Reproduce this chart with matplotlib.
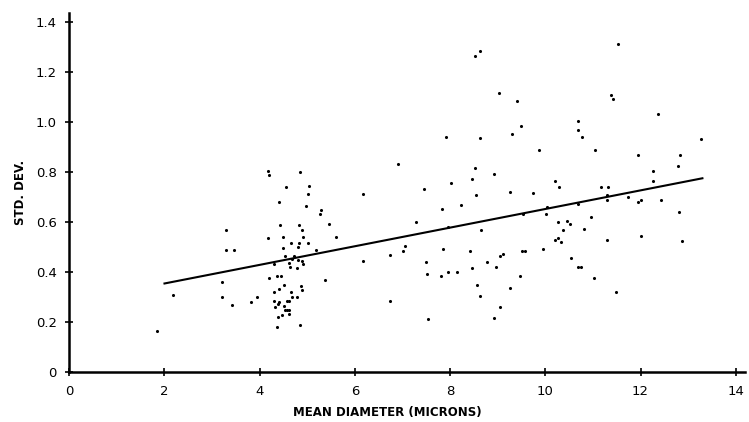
import numpy as np
import matplotlib
matplotlib.use("Agg")
import matplotlib.pyplot as plt

# values (mean diameter in microns, std. dev.)
diam = [
    1.84, 2.18, 3.29, 3.29, 3.45, 3.20, 3.20, 3.42,
    4.17, 4.20, 4.85, 5.04, 4.55, 5.01, 4.41, 4.97, 5.28, 5.27, 6.91, 6.18,
    4.43, 4.83, 4.88, 5.46, 4.17, 4.48, 4.90, 5.61, 4.66, 4.82, 5.01, 4.50,
    4.81, 5.18, 4.53, 4.73, 4.68, 4.81, 4.30, 4.62, 4.88, 4.92, 4.64, 4.79,
    6.18, 6.74, 7.02, 7.06, 4.20, 4.37, 4.45, 5.37, 4.52, 4.87, 4.41, 4.89,
    4.31, 4.65, 3.95, 4.68, 4.78, 3.81, 4.31, 4.41, 4.57, 4.61, 4.38, 4.32,
    4.51, 4.53, 4.58, 4.62, 4.47, 4.62, 4.38, 4.84, 4.37, 6.74,
    8.63, 8.52, 9.03, 9.41, 10.68, 10.68, 9.48, 9.29, 7.91, 8.63, 9.87, 8.52,
    8.93, 8.45, 8.02, 7.45, 10.21, 10.29, 8.54, 9.26, 9.75, 8.22, 7.84, 7.28,
    10.01, 10.26, 10.45, 10.52, 10.38, 8.65, 7.95, 10.04, 9.54, 10.21, 10.27,
    10.32, 7.85, 8.41, 9.12, 9.05, 9.50, 9.57, 9.95, 10.53, 7.50, 8.77, 8.45,
    8.96, 7.52, 7.81, 7.96, 8.14, 9.47,
    8.56, 9.26, 8.63, 9.04, 8.93, 7.54,
    11.53, 11.39, 11.42, 12.37, 10.77, 13.28, 11.04, 11.95, 12.83, 12.79,
    12.27, 12.27, 11.17, 11.32, 11.29, 11.30, 11.74, 11.95, 12.01, 12.44,
    10.69, 12.80, 10.96, 10.81, 11.30, 12.00, 12.88, 10.68, 10.74, 11.02, 11.49,
]
sd = [
    0.166, 0.310, 0.568, 0.487, 0.490, 0.362, 0.301, 0.268,
    0.806, 0.789, 0.800, 0.746, 0.740, 0.713, 0.683, 0.667, 0.650, 0.634, 0.833, 0.713,
    0.588, 0.588, 0.568, 0.592, 0.537, 0.540, 0.543, 0.543, 0.519, 0.516, 0.516, 0.497,
    0.500, 0.490, 0.464, 0.464, 0.452, 0.449, 0.434, 0.436, 0.443, 0.431, 0.420, 0.416,
    0.445, 0.469, 0.484, 0.505, 0.375, 0.383, 0.384, 0.367, 0.348, 0.345, 0.332, 0.327,
    0.320, 0.320, 0.301, 0.300, 0.300, 0.282, 0.285, 0.281, 0.284, 0.284, 0.272, 0.262,
    0.266, 0.248, 0.248, 0.248, 0.229, 0.233, 0.220, 0.189, 0.180, 0.284,
    1.286, 1.266, 1.118, 1.085, 1.006, 0.969, 0.984, 0.955, 0.941, 0.937, 0.889, 0.816,
    0.794, 0.772, 0.757, 0.734, 0.765, 0.740, 0.709, 0.721, 0.716, 0.670, 0.654, 0.601,
    0.634, 0.600, 0.605, 0.592, 0.571, 0.568, 0.583, 0.660, 0.633, 0.529, 0.538,
    0.520, 0.492, 0.484, 0.472, 0.464, 0.486, 0.486, 0.492, 0.457, 0.440, 0.441, 0.418,
    0.421, 0.392, 0.384, 0.402, 0.402, 0.384,
    0.347, 0.336, 0.305, 0.260, 0.216, 0.213,
    1.312, 1.110, 1.092, 1.034, 0.941, 0.933, 0.888, 0.868, 0.870, 0.825,
    0.805, 0.764, 0.740, 0.742, 0.709, 0.689, 0.702, 0.680, 0.688, 0.688,
    0.675, 0.641, 0.620, 0.575, 0.528, 0.545, 0.524, 0.421, 0.421, 0.377, 0.321,
]

# regression line end points as drawn
fit_x = [2.0, 13.3]
fit_y = [0.355, 0.776]

x_ticks = [0, 2, 4, 6, 8, 10, 12, 14]
y_ticks = [0, 0.2, 0.4, 0.6, 0.8, 1.0, 1.2, 1.4]
y_labels = ["0", "0.2", "0.4", "0.6", "0.8", "1.0", "1.2", "1.4"]

plt.rcParams['font.family'] = ['DejaVu Sans']

fig = plt.figure(figsize=(7.49, 4.22), dpi=100)
ax = fig.add_axes([0.0925, 0.118, 0.9025, 0.851])

ax.scatter(diam, sd, s=5, color='black', linewidths=0)
ax.plot(fit_x, fit_y, color='black', lw=1.5)

ax.set_xlim(0, 14.2)
ax.set_ylim(0, 1.437)

for side in ['top', 'right']:
    ax.spines[side].set_visible(False)
for side in ['left', 'bottom']:
    ax.spines[side].set_linewidth(1.8)

ax.set_xticks(x_ticks)
ax.set_xticklabels([str(t) for t in x_ticks])
ax.set_yticks(y_ticks)
ax.set_yticklabels(y_labels)
ax.tick_params(direction='inout', length=6, width=1.2, labelsize=9.5, pad=6)

ax.set_xlabel("MEAN DIAMETER (MICRONS)", fontsize=8.5, fontweight='bold')
ax.xaxis.set_label_coords(0.471, -0.095)
ax.set_ylabel("STD. DEV.", fontsize=8.5, fontweight='bold', labelpad=6)

fig.savefig("out.png", dpi=100)
